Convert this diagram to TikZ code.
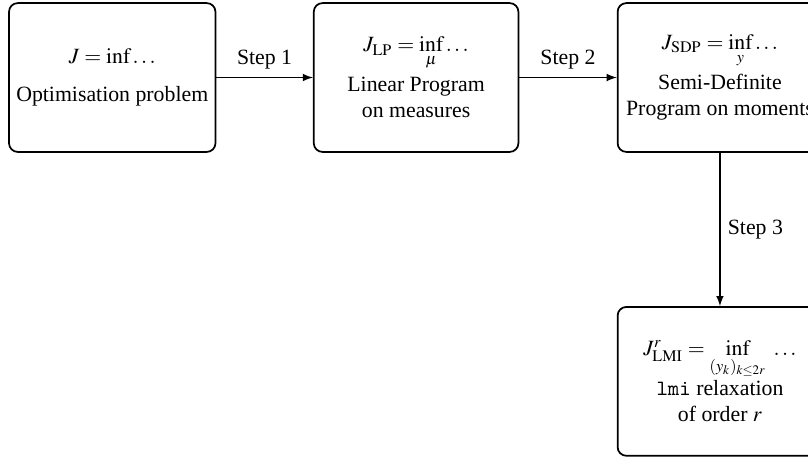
\documentclass[tikz,border=0pt]{standalone}
\usepackage{mathptmx}
\usepackage{fontspec}
\setmainfont{Liberation Serif}
\usepackage{tikz}
\usetikzlibrary{shapes.geometric, arrows}
\tikzstyle{bloc} = [rectangle, rounded corners, minimum width=3.3cm, minimum height=2.4cm, text centered, align=center, draw=black, thick]
\tikzstyle{arrow} = [semithick,->,>=latex]
\newcommand{\lowr}[1]{{#1}_{\mathrm{LMI}}}

\begin{document}
\begin{tikzpicture}
		\useasboundingbox (-1.81,-6.15) rectangle (11.22,1.25);
		\node (opt) [bloc] {
			$J = \inf \dots$\\[0.55em]
			Optimisation problem
		};
		\node (lp) [bloc, right of=opt, xshift=3.9cm] {
			$J_{\mathrm{LP}} = \inf\limits_{\mu} \dots$\\[0.2em]
			Linear Program\\
			on measures
		};
		\node (sdp) [bloc, right of=lp, xshift=3.9cm] {
			$J_{\mathrm{SDP}} = \inf\limits_{y} \dots$\\[0.2em]
			Semi-Definite\\
			Program on moments
		};
		\node (lmi) [bloc, below of=sdp, yshift=-3.9cm] {
			$\lowr{J}^{r} = \inf\limits_{(y_k)_{k\leq 2r}}\ \dots$\\
			\texttt{lmi} relaxation\\
			of order $r$
		};
		\draw [arrow] (opt) -- node[above] {Step 1} (lp);
		\draw [arrow] (lp) -- node[above] {Step 2} (sdp);
		\draw [arrow] (sdp) -- node[right] {Step 3} (lmi);
	\end{tikzpicture}
\end{document}
